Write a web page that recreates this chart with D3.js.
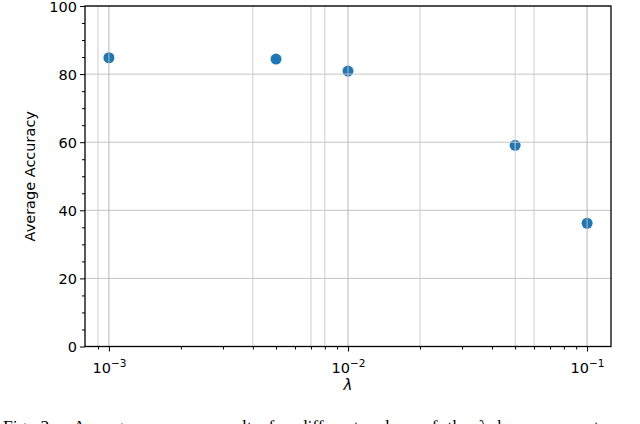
<!DOCTYPE html>
<html>
<head>
<meta charset="utf-8">
<script src="https://cdn.jsdelivr.net/npm/d3@7"></script>
<style>
  html, body { margin: 0; padding: 0; background: #fff; }
  svg { display: block; }
</style>
</head>
<body>
<svg id="chart" width="640" height="424"></svg>
<script>
// ---- data ----
const lambdas = [0.001, 0.005, 0.01, 0.05, 0.1];
const accuracy = [84.8, 84.4, 80.9, 59.1, 36.2];
const yMajorTicks = [0, 20, 40, 60, 80, 100];
const yMinorTicks = [5, 10, 15, 25, 30, 35, 45, 50, 55, 65, 70, 75, 85, 90, 95];
const xMajorTicks = [1e-3, 1e-2, 1e-1];
const xMajorExponents = ["−3", "−2", "−1"];
const xMinorTicks = [0.0009, 0.002, 0.003, 0.004, 0.005, 0.006, 0.007, 0.008, 0.009,
                     0.02, 0.03, 0.04, 0.05, 0.06, 0.07, 0.08, 0.09];
const xGridVisible = [0.0009, 0.001, 0.004, 0.007, 0.008, 0.01, 0.02, 0.05, 0.06, 0.1];
const xLabel = "λ";
const yLabel = "Average Accuracy";
const caption = "Fig. 2:  Average accuracy results for different values of the λ hyper-parameter.";

// ---- layout ----
const plotL = 85, plotR = 611, plotT = 6, plotB = 346.5;
const svg = d3.select("#chart");

const x = d3.scaleLog().domain([Math.pow(10, -3.1), Math.pow(10, -0.9)]).range([plotL, plotR]);
const y = d3.scaleLinear().domain([0, 100]).range([plotB, plotT]);

const tickFont = "DejaVu Sans, sans-serif";

// points
svg.append("g").selectAll("circle")
  .data(lambdas.map((l, i) => ({l, a: accuracy[i]})))
  .join("circle")
  .attr("cx", d => x(d.l))
  .attr("cy", d => y(d.a))
  .attr("r", 5.5)
  .attr("fill", "#1f77b4");

// grid (drawn above scatter like matplotlib)
const grid = svg.append("g");
grid.selectAll("line.hg").data(yMajorTicks).join("line")
  .attr("x1", plotL).attr("x2", plotR)
  .attr("y1", d => y(d)).attr("y2", d => y(d))
  .attr("stroke", "#c4c4c4").attr("stroke-width", 1);
grid.selectAll("line.vg").data(xGridVisible).join("line")
  .attr("x1", d => x(d)).attr("x2", d => x(d))
  .attr("y1", plotT).attr("y2", plotB)
  .attr("stroke", d => xMajorTicks.includes(d) ? "#b8b8b8" : "#cdcdcd")
  .attr("stroke-width", 1);

// axes
const xAxisMajor = d3.axisBottom(x).tickValues(xMajorTicks).tickSize(5).tickFormat(() => "");
const xAxisMinor = d3.axisBottom(x).tickValues(xMinorTicks).tickSize(3).tickFormat(() => "");
const yAxisMajor = d3.axisLeft(y).tickValues(yMajorTicks).tickSize(5).tickFormat(d3.format("d"));
const yAxisMinor = d3.axisLeft(y).tickValues(yMinorTicks).tickSize(3).tickFormat(() => "");

const gxMinor = svg.append("g").attr("transform", `translate(0,${plotB})`).call(xAxisMinor);
const gx = svg.append("g").attr("transform", `translate(0,${plotB})`).call(xAxisMajor);
const gyMinor = svg.append("g").attr("transform", `translate(${plotL},0)`).call(yAxisMinor);
const gy = svg.append("g").attr("transform", `translate(${plotL},0)`).call(yAxisMajor);

[gx, gxMinor, gy, gyMinor].forEach(g => {
  g.select(".domain").remove();
  g.selectAll(".tick line").attr("stroke", "#000").attr("stroke-width", 1);
});
gx.selectAll(".tick text").remove();
gxMinor.selectAll(".tick text").remove();
gyMinor.selectAll(".tick text").remove();

gy.selectAll(".tick text")
  .attr("font-family", tickFont).attr("font-size", 14.5).attr("fill", "#000")
  .attr("x", -8).attr("dy", "0.36em");

// x major labels with superscripts
gx.selectAll(".tick").each(function(d, i) {
  const t = d3.select(this).append("text")
    .attr("font-family", tickFont).attr("font-size", 14.5).attr("fill", "#000")
    .attr("text-anchor", "middle").attr("y", 26);
  t.append("tspan").text("10");
  t.append("tspan").attr("font-size", 10.5).attr("dy", -6).text(xMajorExponents[i]);
});

// spines
svg.append("rect")
  .attr("x", plotL).attr("y", plotT)
  .attr("width", plotR - plotL).attr("height", plotB - plotT)
  .attr("fill", "none").attr("stroke", "#000").attr("stroke-width", 1.3);

// labels
svg.append("text")
  .attr("x", (plotL + plotR) / 2).attr("y", 390)
  .attr("text-anchor", "middle")
  .attr("font-family", tickFont).attr("font-size", 15).attr("font-style", "italic")
  .text(xLabel);

svg.append("text")
  .attr("transform", `translate(35,${(plotT + plotB) / 2}) rotate(-90)`)
  .attr("text-anchor", "middle")
  .attr("font-family", tickFont).attr("font-size", 14.5)
  .text(yLabel);

// caption (cut off by the picture edge, as in the reference)
svg.append("text")
  .attr("x", 3).attr("y", 432)
  .attr("font-family", "Liberation Serif, Times New Roman, serif")
  .attr("font-size", 17.5)
  .attr("word-spacing", 5.5)
  .style("white-space", "pre")
  .text(caption);
</script>
</body>
</html>
